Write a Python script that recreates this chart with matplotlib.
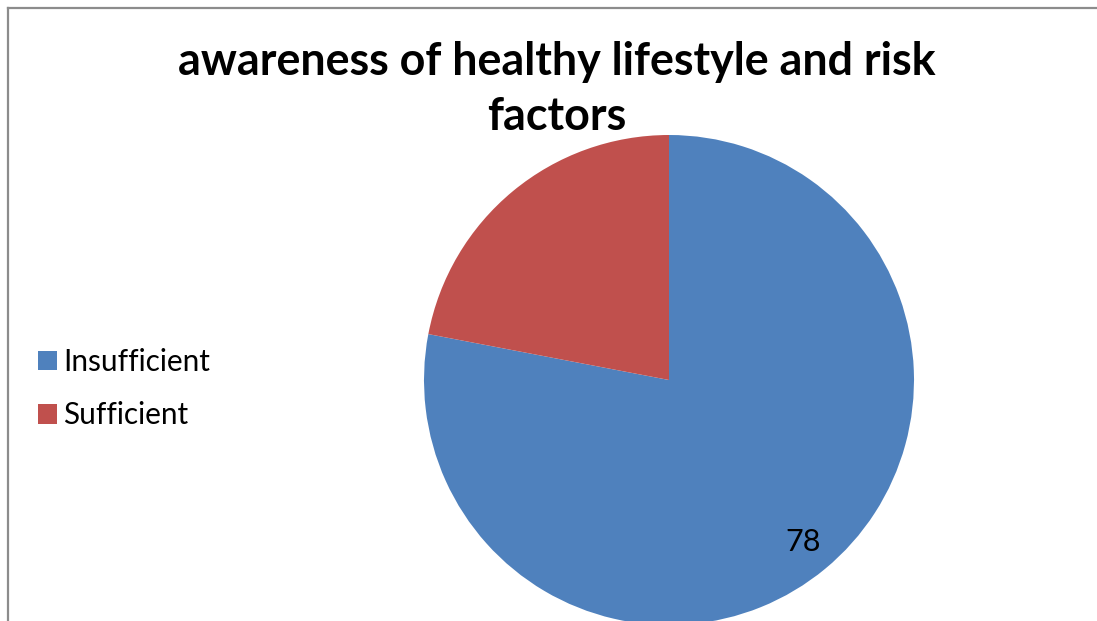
import matplotlib
matplotlib.use("Agg")
import matplotlib.pyplot as plt
from matplotlib.lines import Line2D

categories = ['Insufficient', 'Sufficient']
values = [78, 22]
colors = ['#4F81BD', '#C0504D']
value_labels = ['78', '']
title = 'awareness of healthy lifestyle and risk\nfactors'

W, H = 1097, 621
plt.rcParams['font.family'] = ['Lato', 'DejaVu Sans']
fig = plt.figure(figsize=(W / 100, H / 100), dpi=100)
ax = fig.add_axes([0, 0, 1, 1])

cx, cy, r = 669, H - 380, 245
lab_iter = iter(value_labels)
wedges, texts, autotexts = ax.pie(
    values, colors=colors, startangle=90, counterclock=False,
    center=(cx, cy), radius=r,
    autopct=lambda p: next(lab_iter), pctdistance=0.86,
    textprops=dict(fontsize=22, color='black'),
    wedgeprops=dict(linewidth=0))
ax.set_xlim(0, W)
ax.set_ylim(0, H)
ax.axis('off')

fig.text(557 / W, 1 - 130 / H, title, ha='center', va='baseline',
         fontsize=32.3, fontweight='bold', linespacing=1.38, multialignment='center')

leg = fig.legend(wedges, categories, loc='upper left',
                 bbox_to_anchor=(38 / W, 1 - 348 / H), frameon=False,
                 fontsize=21.4, handlelength=0.64, handleheight=0.64,
                 handletextpad=0.2, labelspacing=0.85, borderpad=0, borderaxespad=0)

# outer frame (top and left edges)
fig.add_artist(Line2D([8 / W, 1], [1 - 8 / H, 1 - 8 / H], color='#8c8c8c', lw=1.6))
fig.add_artist(Line2D([8 / W, 8 / W], [0, 1 - 8 / H], color='#8c8c8c', lw=1.6))

fig.savefig('out.png', dpi=100)
